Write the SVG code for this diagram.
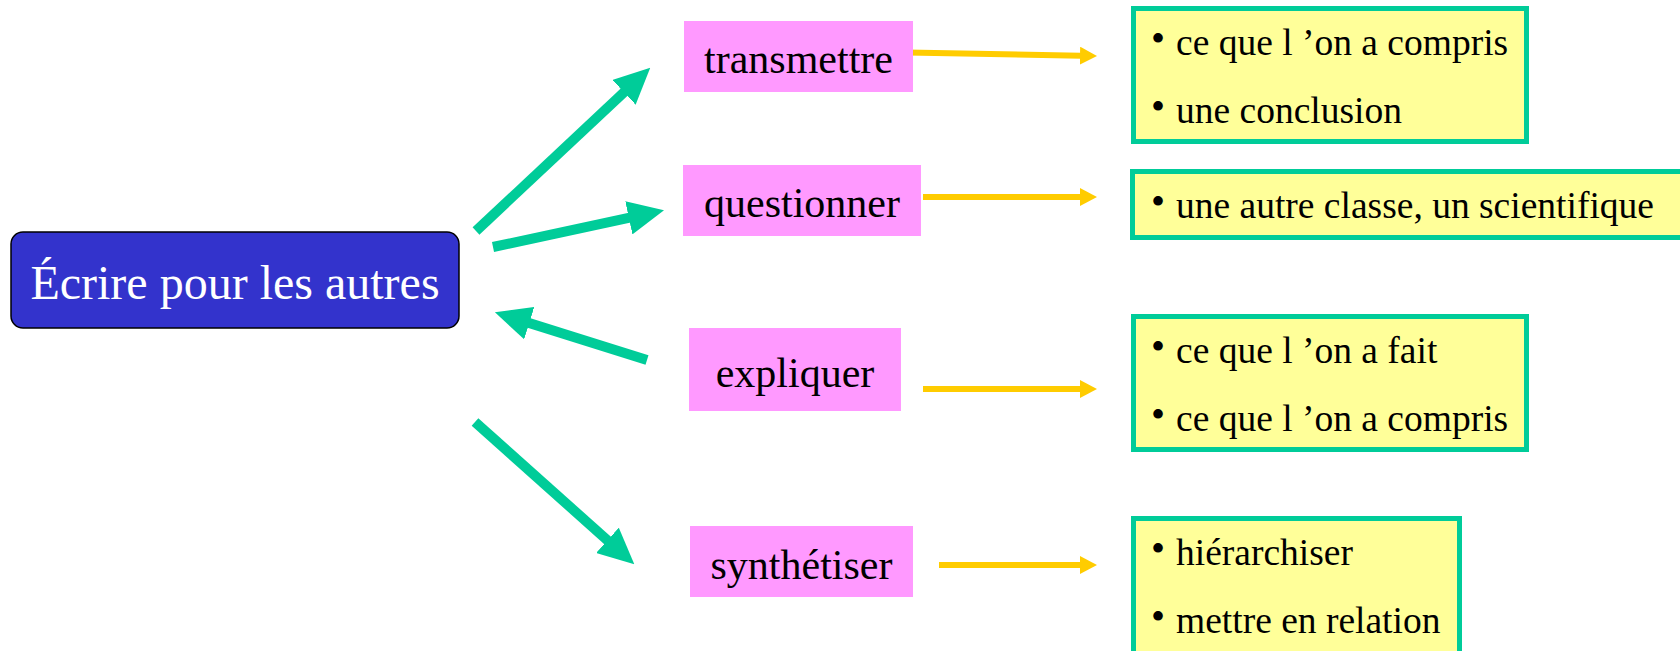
<svg xmlns="http://www.w3.org/2000/svg" width="1680" height="651" viewBox="0 0 1680 651">
<style>
  .pink { fill: #FF99FF; }
  .pinkText { font-family: "Liberation Serif", "Times New Roman", serif; font-size: 42px; fill: #000; text-anchor: middle; }
  .ybox { fill: #FFFF99; stroke: #00CC99; stroke-width: 5; }
  .ytext { font-family: "Liberation Serif", "Times New Roman", serif; font-size: 37.5px; fill: #000; }
  .bul { font-family: "Liberation Serif", "Times New Roman", serif; font-size: 40px; fill: #000; }
  .green { stroke: #00CC99; stroke-width: 10; fill: none; stroke-linecap: butt; marker-end: url(#gHead); }
  .yellow { stroke: #FFCC00; stroke-width: 6; fill: none; stroke-linecap: butt; marker-end: url(#yHead); }
</style>
<defs>
  <marker id="gHead" markerUnits="userSpaceOnUse" markerWidth="36" markerHeight="34" viewBox="0 0 36 34" refX="1" refY="17" orient="auto">
    <path d="M0,0 L36,17 L0,34 z" fill="#00CC99"/>
  </marker>
  <marker id="yHead" markerUnits="userSpaceOnUse" markerWidth="17" markerHeight="18" viewBox="0 0 17 18" refX="1" refY="9" orient="auto">
    <path d="M0,0 L17,9 L0,18 z" fill="#FFCC00"/>
  </marker>
</defs>
<rect width="1680" height="651" fill="#FFFFFF"/>

<g id="connectors">
  <line class="green" x1="476" y1="231" x2="624.7" y2="91.6"/>
  <line class="green" x1="493" y1="247" x2="629.8" y2="217.6"/>
  <line class="green" x1="647" y1="360" x2="528.3" y2="322.8"/>
  <line class="green" x1="475" y1="422" x2="608.2" y2="541"/>
  <line class="yellow" x1="907" y1="52.5" x2="1081" y2="55.7"/>
  <line class="yellow" x1="923" y1="197" x2="1081" y2="197"/>
  <line class="yellow" x1="923" y1="389" x2="1081" y2="389"/>
  <line class="yellow" x1="939" y1="565" x2="1081" y2="565"/>
</g>

<g id="central">
  <rect x="11" y="232" width="448" height="96" rx="12" ry="12" fill="#3333CC" stroke="#000" stroke-width="1.5"/>
  <text x="235" y="299" font-family="Liberation Serif, Times New Roman, serif" font-size="48" fill="#FFFFFF" text-anchor="middle">Écrire pour les autres</text>
</g>

<g id="transmettre">
  <rect class="pink" x="684" y="21" width="229" height="71"/>
  <text class="pinkText" x="798.5" y="73">transmettre</text>
</g>
<g id="questionner">
  <rect class="pink" x="683" y="165" width="238" height="71"/>
  <text class="pinkText" x="802" y="217">questionner</text>
</g>
<g id="expliquer">
  <rect class="pink" x="689" y="328" width="212" height="83"/>
  <text class="pinkText" x="795" y="387">expliquer</text>
</g>
<g id="synthetiser">
  <rect class="pink" x="690" y="526" width="223" height="71"/>
  <text class="pinkText" x="801.5" y="579">synthétiser</text>
</g>

<g id="box-transmettre">
  <rect class="ybox" x="1133.5" y="8.5" width="393" height="133"/>
  <text class="bul" x="1151" y="52">•</text>
  <text class="ytext" x="1176" y="55">ce que l ’on a compris</text>
  <text class="bul" x="1151" y="120">•</text>
  <text class="ytext" x="1176" y="123">une conclusion</text>
</g>
<g id="box-questionner">
  <rect class="ybox" x="1132.5" y="171.5" width="552" height="66"/>
  <text class="bul" x="1151" y="215">•</text>
  <text class="ytext" x="1176" y="218">une autre classe, un scientifique</text>
</g>
<g id="box-expliquer">
  <rect class="ybox" x="1133.5" y="316.5" width="393" height="133"/>
  <text class="bul" x="1151" y="360">•</text>
  <text class="ytext" x="1176" y="363">ce que l ’on a fait</text>
  <text class="bul" x="1151" y="428">•</text>
  <text class="ytext" x="1176" y="431">ce que l ’on a compris</text>
</g>
<g id="box-synthetiser">
  <rect class="ybox" x="1133.5" y="518.5" width="326" height="140"/>
  <text class="bul" x="1151" y="562">•</text>
  <text class="ytext" x="1176" y="565">hiérarchiser</text>
  <text class="bul" x="1151" y="630">•</text>
  <text class="ytext" x="1176" y="633">mettre en relation</text>
</g>
</svg>
